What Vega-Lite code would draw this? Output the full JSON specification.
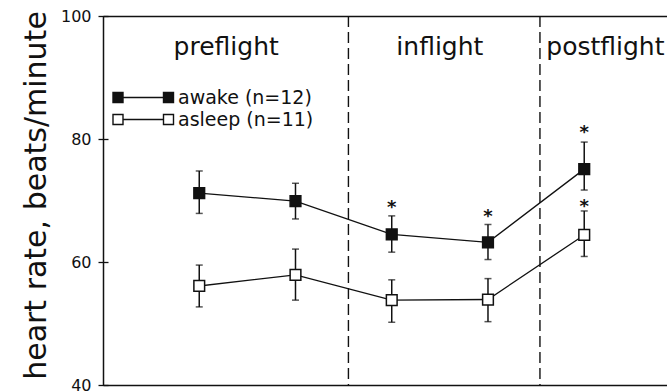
{
  "$schema": "https://vega.github.io/schema/vega-lite/v6.json",
  "width": 564,
  "height": 369,
  "autosize": {"type": "none"},
  "padding": {"left": 103, "top": 16, "right": 0, "bottom": 7},
  "background": "white",
  "config": {
    "view": {"stroke": null},
    "font": "DejaVu Sans",
    "axis": {"grid": false, "domainColor": "#111", "tickColor": "#111", "labelColor": "#111", "titleColor": "#111"}
  },
  "datasets": {
    "hr": [
      {"session": 1, "series": "awake (n=12)", "hr": 71.2, "lo": 67.9, "hi": 74.8, "star": null},
      {"session": 2, "series": "awake (n=12)", "hr": 69.9, "lo": 67.0, "hi": 72.8, "star": null},
      {"session": 3, "series": "awake (n=12)", "hr": 64.5, "lo": 61.6, "hi": 67.5, "star": 69.8},
      {"session": 4, "series": "awake (n=12)", "hr": 63.2, "lo": 60.4, "hi": 66.1, "star": 68.3},
      {"session": 5, "series": "awake (n=12)", "hr": 75.1, "lo": 71.7, "hi": 79.5, "star": 82.0},
      {"session": 1, "series": "asleep (n=11)", "hr": 56.1, "lo": 52.7, "hi": 59.5, "star": null},
      {"session": 2, "series": "asleep (n=11)", "hr": 57.9, "lo": 53.8, "hi": 62.1, "star": null},
      {"session": 3, "series": "asleep (n=11)", "hr": 53.8, "lo": 50.2, "hi": 57.1, "star": null},
      {"session": 4, "series": "asleep (n=11)", "hr": 53.9, "lo": 50.3, "hi": 57.3, "star": null},
      {"session": 5, "series": "asleep (n=11)", "hr": 64.4, "lo": 60.9, "hi": 68.3, "star": 69.9}
    ],
    "phases": [
      {"phase": "preflight", "at": 1.28, "level": 93.7},
      {"phase": "inflight", "at": 3.5, "level": 93.7},
      {"phase": "postflight", "at": 5.22, "level": 93.7}
    ],
    "dividers": [{"at": 2.55}, {"at": 4.54}]
  },
  "resolve": {"axis": {"x": "independent", "y": "independent"}},
  "layer": [
    {
      "data": {"name": "dividers"},
      "mark": {"type": "rule", "color": "#111", "strokeWidth": 1.4, "strokeDash": [11, 5]},
      "encoding": {
        "x": {"field": "at", "type": "quantitative", "scale": {"domain": [0, 5.86], "nice": false, "zero": false}, "axis": null}
      }
    },
    {
      "data": {"name": "hr"},
      "mark": {"type": "line", "color": "#111", "strokeWidth": 1.3},
      "encoding": {
        "x": {
          "field": "session", "type": "quantitative",
          "scale": {"domain": [0, 5.86], "nice": false, "zero": false},
          "axis": {"orient": "bottom", "domain": true, "domainWidth": 1.5, "ticks": false, "labels": false, "title": null}
        },
        "y": {
          "field": "hr", "type": "quantitative",
          "scale": {"domain": [40, 100], "nice": false, "zero": false},
          "axis": {
            "orient": "left", "values": [40, 60, 80, 100], "domain": false, "offset": -5,
            "tickSize": 10, "tickWidth": 1.3, "labelFontSize": 16, "labelPadding": 7,
            "title": "heart rate, beats/minute", "titleFontSize": 30, "titleFontWeight": "normal",
            "titlePadding": 9, "titleY": 179
          }
        },
        "detail": {"field": "series"}
      }
    },
    {
      "data": {"name": "hr"},
      "mark": {"type": "rule", "color": "#111", "strokeWidth": 1.5},
      "encoding": {
        "x": {"field": "session", "type": "quantitative", "axis": null},
        "y": {"field": "lo", "type": "quantitative", "axis": null},
        "y2": {"field": "hi"}
      }
    },
    {
      "data": {"name": "hr"},
      "mark": {"type": "tick", "orient": "horizontal", "color": "#111", "size": 7, "thickness": 1.5},
      "encoding": {
        "x": {"field": "session", "type": "quantitative", "axis": null},
        "y": {"field": "lo", "type": "quantitative", "axis": null}
      }
    },
    {
      "data": {"name": "hr"},
      "mark": {"type": "tick", "orient": "horizontal", "color": "#111", "size": 7, "thickness": 1.5},
      "encoding": {
        "x": {"field": "session", "type": "quantitative", "axis": null},
        "y": {"field": "hi", "type": "quantitative", "axis": null}
      }
    },
    {
      "data": {"name": "hr"},
      "mark": {"type": "point", "shape": "square", "filled": true, "size": 115, "stroke": "#111", "strokeWidth": 1.5, "opacity": 1},
      "encoding": {
        "x": {
          "field": "session", "type": "quantitative",
          "axis": {"orient": "top", "domain": true, "domainWidth": 1.5, "ticks": false, "labels": false, "title": null}
        },
        "y": {
          "field": "hr", "type": "quantitative",
          "axis": {"orient": "left", "domain": true, "domainWidth": 1.5, "ticks": false, "labels": false, "title": null}
        },
        "fill": {
          "field": "series", "type": "nominal",
          "scale": {"domain": ["awake (n=12)", "asleep (n=11)"], "range": ["#111", "white"]},
          "legend": {
            "orient": "none", "legendX": 56, "legendY": 72, "title": null, "padding": 0,
            "symbolType": "M-11.1,-1H-9.1V1H-11.1Z M-9.1,0H-1 M-1,-1H1V1H-1Z",
            "symbolSize": 100, "symbolStrokeColor": "#111", "symbolStrokeWidth": 1.4,
            "labelFontSize": 19, "labelOffset": 0, "labelColor": "#111", "rowPadding": 2
          }
        }
      }
    },
    {
      "data": {"name": "hr"},
      "transform": [{"filter": "isValid(datum.star)"}],
      "mark": {"type": "text", "text": "*", "fontSize": 18, "fontWeight": "bold", "color": "#111", "baseline": "alphabetic", "dy": 11},
      "encoding": {
        "x": {"field": "session", "type": "quantitative", "axis": null},
        "y": {"field": "star", "type": "quantitative", "axis": null}
      }
    },
    {
      "data": {"name": "phases"},
      "mark": {"type": "text", "fontSize": 25, "color": "#111", "baseline": "alphabetic", "align": "center"},
      "encoding": {
        "x": {"field": "at", "type": "quantitative", "axis": null},
        "y": {"field": "level", "type": "quantitative", "axis": null},
        "text": {"field": "phase"}
      }
    }
  ]
}
